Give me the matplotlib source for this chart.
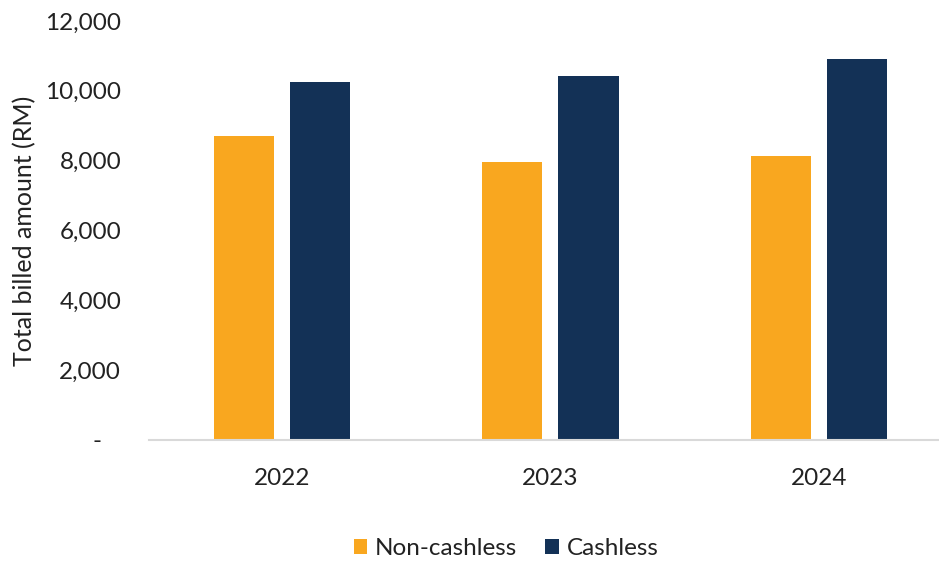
import matplotlib.pyplot as plt
import numpy as np
from matplotlib.ticker import FuncFormatter

plt.rcParams['font.family'] = ['Lato', 'DejaVu Sans']

# dados
anos = ['2022', '2023', '2024']
non_cashless = [8700, 7960, 8120]
cashless = [10260, 10410, 10900]

cor_non = '#F9A71F'
cor_cash = '#133156'

fig = plt.figure(figsize=(9.39, 5.62), dpi=100)
ax = fig.add_axes([0.1587, 0.2171, 0.8413, 0.7456])

x = np.arange(len(anos))
largura = 0.224
desloc = 0.142
ax.bar(x - desloc, non_cashless, largura, color=cor_non, label='Non-cashless')
ax.bar(x + desloc, cashless, largura, color=cor_cash, label='Cashless')

ax.set_xlim(-0.496, 2.448)
ax.set_ylim(0, 12000)
ax.set_yticks(np.arange(0, 12001, 2000))
# zero aparece como traço, estilo contábil
ax.yaxis.set_major_formatter(FuncFormatter(lambda v, p: '-   ' if v == 0 else f'{v:,.0f}'))
ax.set_xticks(x)
ax.set_xticklabels(anos)

for lado in ['top', 'right', 'left']:
    ax.spines[lado].set_visible(False)
ax.spines['bottom'].set_color('#D9D9D9')
ax.spines['bottom'].set_linewidth(1.5)

ax.tick_params(axis='y', length=0, pad=20, labelsize=17.5, labelcolor='#222222')
ax.tick_params(axis='x', length=0, pad=20, labelsize=17.5, labelcolor='#222222')

ax.set_ylabel('Total billed amount (RM)', fontsize=18, color='#222222')
ax.yaxis.set_label_coords(-0.143, 0.5)

fig.legend(loc='center', bbox_to_anchor=(0.539, 0.024), ncol=2, frameon=False,
           fontsize=17.5, handlelength=0.55, handleheight=0.55, handletextpad=0.33,
           columnspacing=1.15, labelcolor='#222222')

fig.savefig('out.png', dpi=100)
